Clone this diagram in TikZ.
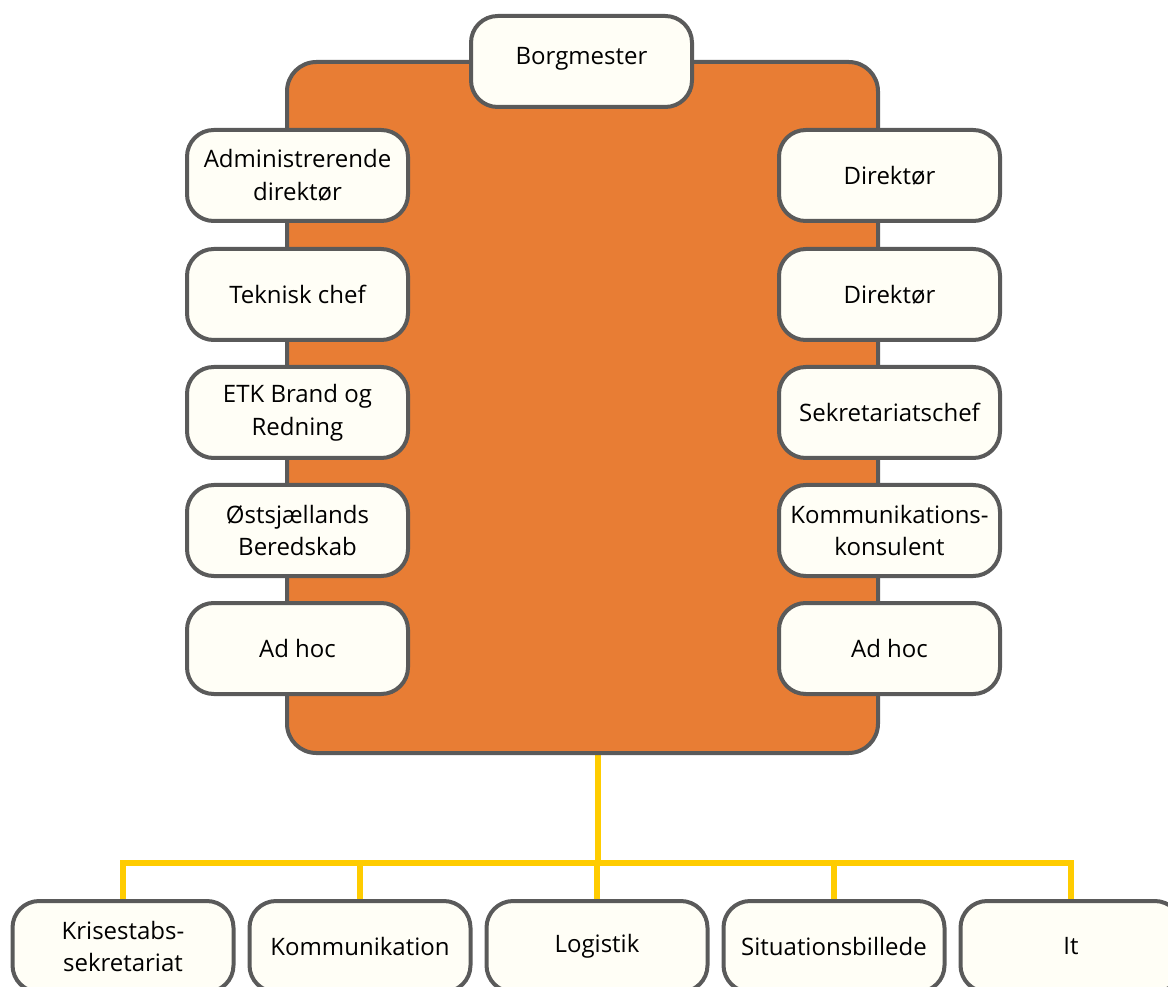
\documentclass[tikz,border=0pt]{standalone}
\usepackage{fontspec}
\setmainfont{Open Sans}
\usetikzlibrary{backgrounds}
\definecolor{orangefill}{HTML}{E87D34}
\definecolor{boxfill}{HTML}{FFFEF6}
\definecolor{edgegray}{HTML}{5A5A5A}
\definecolor{busyellow}{HTML}{FFCC00}
\tikzset{
  core/.style={draw=edgegray, line width=3pt, fill=orangefill, rounded corners=22pt,
    minimum width=443.25pt, minimum height=518.25pt, inner sep=0pt},
  unit/.style={draw=edgegray, line width=3pt, fill=boxfill, rounded corners=20pt,
    minimum width=165.75pt, minimum height=68.25pt, inner sep=2pt, align=center,
    font=\fontsize{18}{24.5}\selectfont, text=black},
  bus/.style={draw=busyellow, line width=4.5pt}
}
\begin{document}
\begin{tikzpicture}[x=0.75pt,y=-0.75pt]
\useasboundingbox (0,0) rectangle (1168,987);
\clip (0,0) rectangle (1168,987);
\node[core] (core) at (582.5,407.5) {};
\coordinate (bus) at (598,863);
\node[unit] (b1) at (123,946.5) {Krisestabs-\\sekretariat};
\node[unit] (b2) at (360,946.5) {Kommunikation};
\node[unit] (b3) at (597,946.5) {Logistik};
\node[unit] (b4) at (834,946.5) {Situationsbillede};
\node[unit] (b5) at (1071,946.5) {It};
\begin{scope}[on background layer]
\draw[bus] (core.south -| bus) -- (bus);
\draw[bus] (b1.north) -- (b1.north |- bus) -- (b5.north |- bus) -- (b5.north);
\draw[bus] (b2.north) -- (b2.north |- bus);
\draw[bus] (b3.north) -- (b3.north |- bus);
\draw[bus] (b4.north) -- (b4.north |- bus);
\end{scope}
\node[unit, text depth=9pt] (borg) at (581.5,61.5) {Borgmester};
\node[unit] (l1) at (297.5,175.5) {Administrerende\\direktør};
\node[unit] (l2) at (297.5,294.5) {Teknisk chef};
\node[unit] (l3) at (297.5,412.5) {ETK Brand og\\Redning};
\node[unit] (l4) at (297.5,530.5) {Østsjællands\\Beredskab};
\node[unit] (l5) at (297.5,648.5) {Ad hoc};
\node[unit] (r1) at (889.5,175.5) {Direktør};
\node[unit] (r2) at (889.5,294.5) {Direktør};
\node[unit] (r3) at (889.5,412.5) {Sekretariatschef};
\node[unit] (r4) at (889.5,530.5) {Kommunikations-\\konsulent};
\node[unit] (r5) at (889.5,648.5) {Ad hoc};
\end{tikzpicture}
\end{document}
